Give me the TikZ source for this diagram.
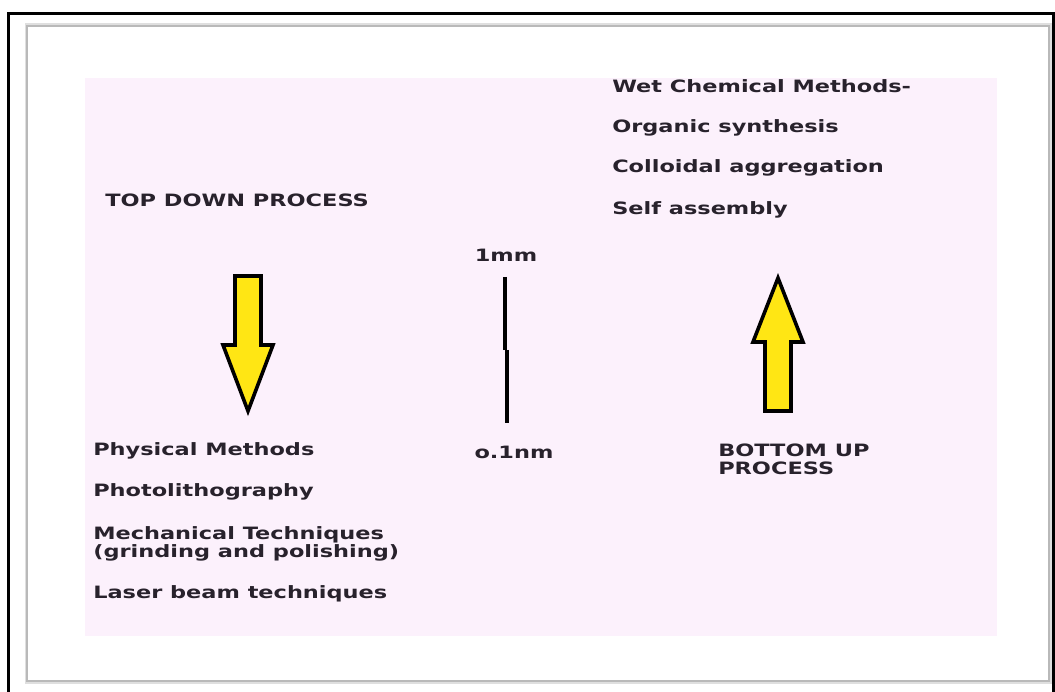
\documentclass[tikz,border=0pt]{standalone}
\usepackage{fontspec}
\setmainfont{DejaVu Sans}
\usepackage{tikz}
\usetikzlibrary{positioning}

\definecolor{slidepink}{RGB}{252,241,252}
\definecolor{arrowyellow}{RGB}{255,230,20}
\definecolor{inkgray}{RGB}{40,34,44}

\begin{document}
\begin{tikzpicture}[x=1pt, y=-1pt,
    label/.style={font=\fontsize{17}{18}\bfseries\selectfont, text=inkgray, anchor=west, inner sep=0pt, xscale=1.32},
    twoline/.style={label, align=left},
    fatarrow/.style={draw=black, fill=arrowyellow, line width=3.6pt, line join=miter},
    scalebar/.style={line width=4pt, black}]
    \useasboundingbox (0,0) rectangle (1055,692);
    \clip (0,0) rectangle (1055,692);
    \fill[white] (0,0) rectangle (1055,692);
    % frame and slide
    \draw[line width=3pt] (8.5,700) -- (8.5,13.5) -- (1053.5,13.5) -- (1053.5,700);
    \draw[gray!25, line width=5pt] (27,26) rectangle (1049,681);
    \draw[gray!55, line width=2pt, fill=white] (27,26) rectangle (1049,681);
    \fill[slidepink] (85,78) rectangle (997,636);
    % texts
    \node[label] (wet) at (612,86) {Wet Chemical Methods-};
    \node[label] (org) at (612,128) {Organic synthesis};
    \node[label] (coll) at (612,168) {Colloidal aggregation};
    \node[label] (self) at (612,210) {Self assembly};
    \node[label] (top) at (105,200) {TOP DOWN PROCESS};
    \node[label, anchor=center] (mm) at (506,255) {1mm};
    \node[label, anchor=center] (nm) at (514,452) {o.1nm};
    \node[twoline, anchor=north west] (bottom) at (718,444) {BOTTOM UP\\PROCESS};
    \node[label] (phys) at (93,451) {Physical Methods};
    \node[label] (photo) at (93,492) {Photolithography};
    \node[twoline, anchor=north west] (mech) at (93,526) {Mechanical Techniques\\(grinding and polishing)};
    \node[label] (laser) at (93,594) {Laser beam techniques};
    % arrows
    \draw[fatarrow] (235,276) -- (261,276) -- (261,345) -- (273,345) -- (248,411)
        -- (223,345) -- (235,345) -- cycle;
    \draw[fatarrow] (778,278) -- (803,342) -- (791,342) -- (791,411) -- (765,411)
        -- (765,342) -- (753,342) -- cycle;
    % scale bar
    \coordinate (bartop) at (505,277);
    \coordinate (barmid) at (505,350);
    \coordinate (barmid2) at (506.5,350);
    \coordinate (barbot) at (506.5,423);
    \draw[scalebar] (bartop) -- (barmid);
    \draw[scalebar] (barmid2) -- (barbot);
\end{tikzpicture}
\end{document}
